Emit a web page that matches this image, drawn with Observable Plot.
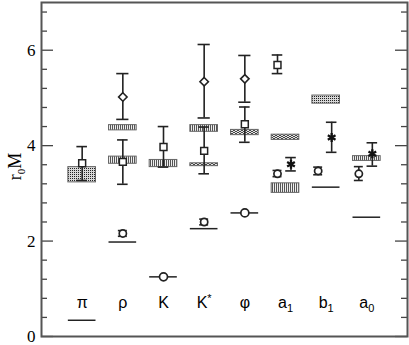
<!DOCTYPE html>
<html><head><meta charset="utf-8">
<script src="https://cdn.jsdelivr.net/npm/d3@7"></script>
<script src="https://cdn.jsdelivr.net/npm/@observablehq/plot@0.6"></script>
<style>body{margin:0;background:#fff}</style>
</head><body><div id="chart"></div>
<script>
const categories = ["π","ρ","K","K^*","φ","a_1","b_1","a_0"];

// open squares with error bars
const squareCat = ["π","ρ","K","K^*","φ","a_1"];
const squareVal = [3.63, 3.66, 3.97, 3.89, 4.45, 5.69];
const squareLo  = [3.27, 3.19, 3.55, 3.41, 4.07, 5.51];
const squareHi  = [3.98, 4.12, 4.40, 4.39, 4.81, 5.90];

// open diamonds with error bars
const diamondCat = ["ρ","K^*","φ"];
const diamondVal = [5.02, 5.34, 5.40];
const diamondLo  = [4.55, 4.58, 4.91];
const diamondHi  = [5.51, 6.12, 5.89];

// open circles with small error bars
const circleCat = ["ρ","K^*","a_1","b_1","a_0"];
const circleVal = [2.16, 2.40, 3.41, 3.47, 3.41];
const circleLo  = [2.10, 2.34, 3.35, 3.39, 3.27];
const circleHi  = [2.22, 2.46, 3.48, 3.55, 3.56];

// open circles without error bars
const circle2Cat = ["K","φ"];
const circle2Val = [1.25, 2.59];

// stars with error bars
const starCat = ["a_1","b_1","a_0"];
const starVal = [3.61, 4.17, 3.83];
const starLo  = [3.47, 3.86, 3.57];
const starHi  = [3.75, 4.49, 4.06];

// horizontal lines
const lineCat = ["π","ρ","K","K^*","φ","b_1","a_0"];
const lineVal = [0.34, 1.98, 1.25, 2.26, 2.59, 3.13, 2.50];

// shaded bands
const dotBoxCat = ["π","b_1"];
const dotBoxLo  = [3.23, 4.88];
const dotBoxHi  = [3.55, 5.05];

const hatchBoxCat = ["ρ","ρ","K","K^*","a_1","a_0"];
const hatchBoxLo  = [3.62, 4.32, 3.55, 4.29, 3.01, 3.68];
const hatchBoxHi  = [3.77, 4.43, 3.70, 4.43, 3.21, 3.78];

const wavyBoxCat = ["K^*","φ","a_1"];
const wavyBoxLo  = [3.57, 4.22, 4.12];
const wavyBoxHi  = [3.63, 4.33, 4.23];

const yMajor = [0, 2, 4, 6];

// ---------- build tables ----------
const rows = (cat, val, lo, hi) => cat.map((c, i) => ({cat: c, v: val ? val[i] : undefined, lo: lo ? lo[i] : undefined, hi: hi ? hi[i] : undefined}));
const squares = rows(squareCat, squareVal, squareLo, squareHi);
const diamonds = rows(diamondCat, diamondVal, diamondLo, diamondHi);
const circles = rows(circleCat, circleVal, circleLo, circleHi);
const circles2 = rows(circle2Cat, circle2Val);
const stars = rows(starCat, starVal, starLo, starHi);
const lines = rows(lineCat, lineVal);
const dotBoxes = rows(dotBoxCat, null, dotBoxLo, dotBoxHi);
const hatchBoxes = rows(hatchBoxCat, null, hatchBoxLo, hatchBoxHi);
const wavyBoxes = rows(wavyBoxCat, null, wavyBoxLo, wavyBoxHi);

const xi = d => categories.indexOf(d.cat);
const HW = 0.34;      // half width of bands/lines in x units
const ink = "#222";
const shifted = new Set(["a_1","b_1","a_0"]);
const serif = "Liberation Serif, Times New Roman, serif";

function errMarks(data, cap, opts) {
  return [
    Plot.ruleX(data, {x: xi, y1: "lo", y2: "hi", stroke: ink, strokeWidth: 1.6, ...opts}),
    Plot.ruleY(data, {y: "hi", x1: d => xi(d) - cap, x2: d => xi(d) + cap, stroke: ink, strokeWidth: 1.6, ...opts}),
    Plot.ruleY(data, {y: "lo", x1: d => xi(d) - cap, x2: d => xi(d) + cap, stroke: ink, strokeWidth: 1.6, ...opts})
  ];
}
const box = (data, pat) => Plot.rect(data, {x1: d => xi(d) - HW, x2: d => xi(d) + HW, y1: "lo", y2: "hi", fill: `url(#${pat})`, stroke: "#666", strokeWidth: 1});

const minor = d3.range(0, 7, 0.4).map(v => +v.toFixed(1)).filter(v => !yMajor.includes(v));

const plot = Plot.plot({
  width: 409, height: 345,
  marginLeft: 41, marginRight: 2, marginTop: 2, marginBottom: 9,
  x: {domain: [-1, 8], axis: null},
  y: {domain: [0, 7], axis: null},
  marks: [
    box(dotBoxes, "dots"),
    box(hatchBoxes, "vhatch"),
    box(wavyBoxes, "wavy"),
    Plot.ruleY(lines, {y: "v", x1: d => xi(d) - HW, x2: d => xi(d) + HW, stroke: ink, strokeWidth: 1.5}),
    // squares
    ...errMarks(squares.filter(d => !shifted.has(d.cat)), 0.13, {}),
    Plot.dot(squares.filter(d => !shifted.has(d.cat)), {x: xi, y: "v", symbol: "square", r: 3.9, fill: "white", stroke: ink, strokeWidth: 1.5}),
    ...errMarks(squares.filter(d => shifted.has(d.cat)), 0.13, {dx: -8}),
    Plot.dot(squares.filter(d => shifted.has(d.cat)), {x: xi, y: "v", dx: -8, symbol: "square", r: 3.9, fill: "white", stroke: ink, strokeWidth: 1.5}),
    // diamonds
    ...errMarks(diamonds, 0.15, {}),
    Plot.dot(diamonds, {x: xi, y: "v", symbol: "diamond2", r: 3.8, fill: "white", stroke: ink, strokeWidth: 1.6}),
    // circles
    ...errMarks(circles.filter(d => !shifted.has(d.cat)), 0.11, {}),
    Plot.dot(circles.filter(d => !shifted.has(d.cat)), {x: xi, y: "v", r: 3.6, fill: "white", stroke: ink, strokeWidth: 1.7}),
    ...errMarks(circles.filter(d => shifted.has(d.cat)), 0.11, {dx: -8}),
    Plot.dot(circles.filter(d => shifted.has(d.cat)), {x: xi, y: "v", dx: -8, r: 3.6, fill: "white", stroke: ink, strokeWidth: 1.7}),
    Plot.dot(circles2, {x: xi, y: "v", r: 4, fill: "white", stroke: ink, strokeWidth: 1.7}),
    // stars
    ...errMarks(stars, 0.13, {dx: 5.5}),
    Plot.dot(stars, {x: xi, y: "v", dx: 5.5, symbol: "asterisk", r: 4.2, stroke: "#111", strokeWidth: 2.3}),
    // category labels
    Plot.text(categories, {x: (d, i) => i, y: 0.7, text: d => d, fontSize: 16, fontFamily: "Liberation Sans, Arial, sans-serif", fill: "black"}),
    // ticks (inward, both sides)
    Plot.tickY(yMajor, {y: d => d, insetRight: 354, stroke: "#444", strokeWidth: 1.3}),
    Plot.tickY(minor, {y: d => d, insetRight: 360, stroke: "#444", strokeWidth: 1.3}),
    Plot.tickY(yMajor, {y: d => d, insetLeft: 354, stroke: "#444", strokeWidth: 1.3}),
    Plot.tickY(minor, {y: d => d, insetLeft: 360, stroke: "#444", strokeWidth: 1.3}),
    // tick labels
    Plot.text(yMajor, {y: d => d, text: d => String(d), frameAnchor: "left", dx: -6, textAnchor: "end", fontSize: 17, fontFamily: serif, fill: "black"}),
    // axis title
    Plot.text(["r_0M"], {text: d => d, frameAnchor: "left", textAnchor: "middle", dx: -26, dy: -3, rotate: -90, fontSize: 18, fontFamily: serif, fill: "black"}),
    Plot.frame({stroke: "#555", strokeWidth: 2})
  ]
});

// patterns
const svg = d3.select(plot);
const defs = svg.insert("defs", ":first-child");
const pd = defs.append("pattern").attr("id", "dots").attr("patternUnits", "userSpaceOnUse").attr("width", 2).attr("height", 2);
pd.append("rect").attr("width", 2).attr("height", 2).attr("fill", "#d8d8d8");
pd.append("rect").attr("width", 1).attr("height", 1).attr("fill", "#222");
const ph = defs.append("pattern").attr("id", "vhatch").attr("patternUnits", "userSpaceOnUse").attr("width", 2).attr("height", 2);
ph.append("rect").attr("width", 2).attr("height", 2).attr("fill", "#eee");
ph.append("rect").attr("width", 1).attr("height", 2).attr("fill", "#555");
const pw = defs.append("pattern").attr("id", "wavy").attr("patternUnits", "userSpaceOnUse").attr("width", 4).attr("height", 4);
pw.append("rect").attr("width", 4).attr("height", 4).attr("fill", "#e4e4e4");
[[1,0],[2,0],[0,1],[3,1],[1,2],[2,2],[0,3],[3,3]].forEach(([x, y]) => pw.append("rect").attr("x", x).attr("y", y).attr("width", 1).attr("height", 1).attr("fill", "#444"));

// sub/superscripts
svg.selectAll("text").each(function () {
  const t = this.textContent;
  const m = t.match(/^(.*?)([_^])(.)(.*)$/);
  if (!m) return;
  const el = d3.select(this);
  el.text(null);
  const down = m[2] === "_";
  el.append("tspan").text(m[1]);
  el.append("tspan").attr("font-size", "11px").attr("dy", down ? "4px" : "-6px").text(m[3]);
  if (m[4]) el.append("tspan").attr("dy", down ? "-4px" : "6px").text(m[4]);
});

document.getElementById("chart").appendChild(plot);
</script>
</body></html>
